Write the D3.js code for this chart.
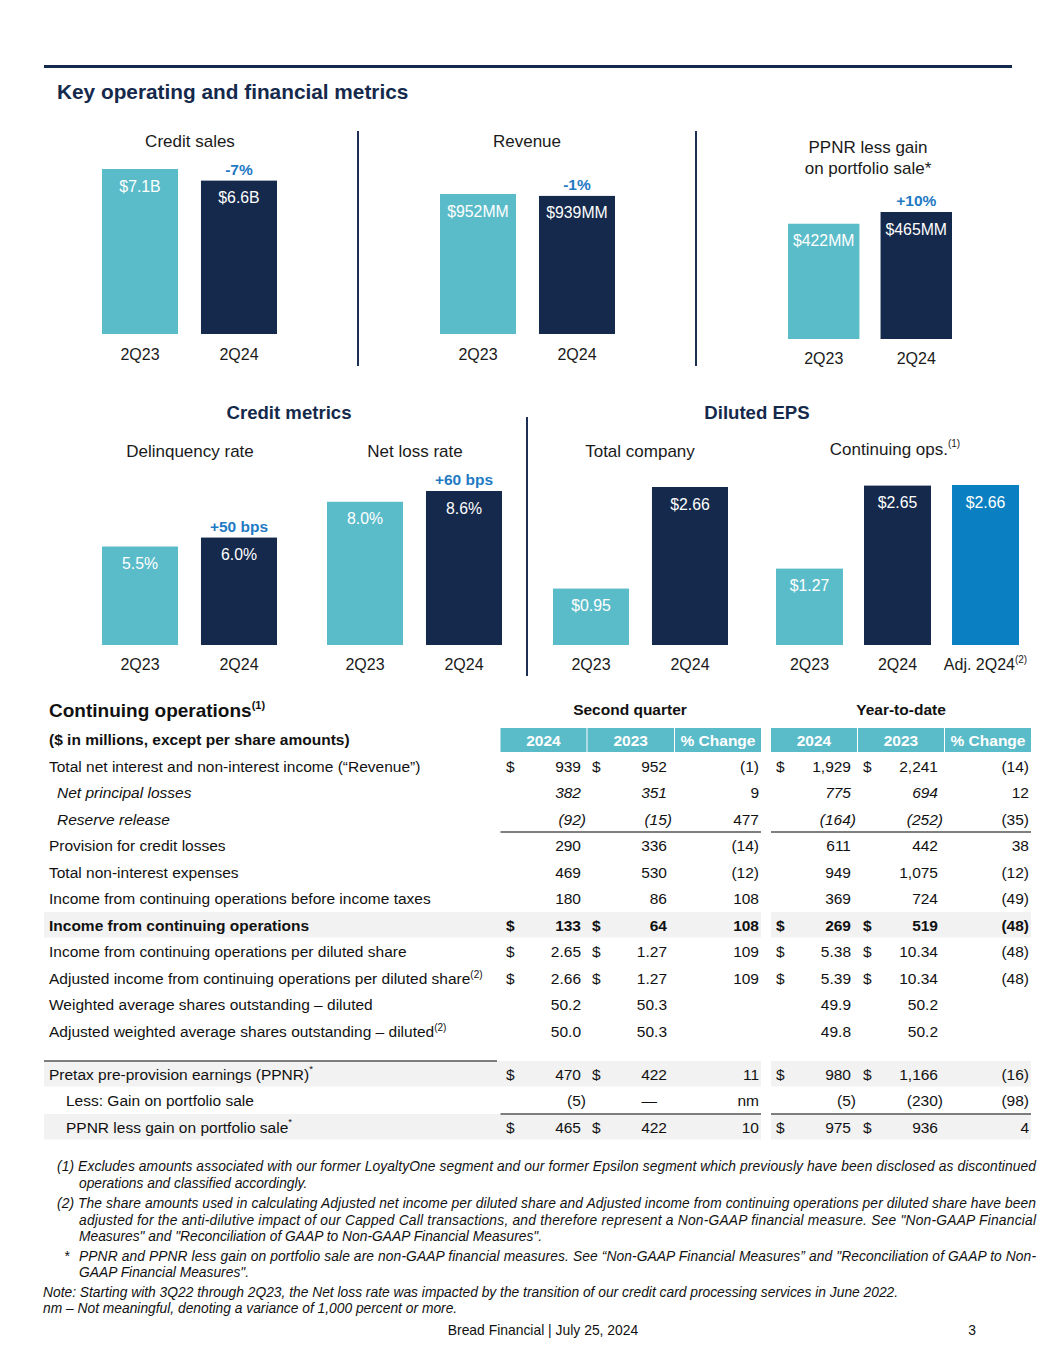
<!DOCTYPE html>
<html>
<head>
<meta charset="utf-8">
<script src="https://cdn.jsdelivr.net/npm/d3@7"></script>
<style>
  body { margin: 0; background: #fff; }
  svg text { font-family: "Liberation Sans", Arial, sans-serif; }
</style>
</head>
<body>
<svg id="page" width="1055" height="1365"></svg>
<script>
// ---- data ----
var periods = ["2Q23", "2Q24"];
var creditSales = [7.1, 6.6];
var creditSalesLabels = ["$7.1B", "$6.6B"];
var revenue = [952, 939];
var revenueLabels = ["$952MM", "$939MM"];
var ppnrLessGain = [422, 465];
var ppnrLabels = ["$422MM", "$465MM"];
var delinquencyRate = [5.5, 6.0];
var netLossRate = [8.0, 8.6];
var epsTotal = [0.95, 2.66];
var epsContPeriods = ["2Q23", "2Q24", "Adj. 2Q24"];
var epsCont = [1.27, 2.65, 2.66];

var rowLabels = [
	"Total net interest and non-interest income (\u201cRevenue\u201d)",
	"Net principal losses",
	"Reserve release",
	"Provision for credit losses",
	"Total non-interest expenses",
	"Income from continuing operations before income taxes",
	"Income from continuing operations",
	"Income from continuing operations per diluted share",
	"Adjusted income from continuing operations per diluted share",
	"Weighted average shares outstanding \u2013 diluted",
	"Adjusted weighted average shares outstanding \u2013 diluted",
	"Pretax pre-provision earnings (PPNR)",
	"Less: Gain on portfolio sale",
	"PPNR less gain on portfolio sale"
];
var rowNotes = ["", "", "", "", "", "", "", "", "(2)", "", "(2)", "*", "", "*"];
var q2024 = ["939", "382", "(92)", "290", "469", "180", "133", "2.65", "2.66", "50.2", "50.0", "470", "(5)", "465"];
var q2023 = ["952", "351", "(15)", "336", "530", "86", "64", "1.27", "1.27", "50.3", "50.3", "422", "\u2014", "422"];
var qChange = ["(1)", "9", "477", "(14)", "(12)", "108", "108", "109", "109", "", "", "11", "nm", "10"];
var ytd2024 = ["1,929", "775", "(164)", "611", "949", "369", "269", "5.38", "5.39", "49.9", "49.8", "980", "(5)", "975"];
var ytd2023 = ["2,241", "694", "(252)", "442", "1,075", "724", "519", "10.34", "10.34", "50.2", "50.2", "1,166", "(230)", "936"];
var ytdChange = ["(14)", "12", "(35)", "38", "(12)", "(49)", "(48)", "(48)", "(48)", "", "", "(16)", "(98)", "4"];
var hasDollar = [1, 0, 0, 0, 0, 0, 1, 1, 1, 0, 0, 1, 0, 1];
var columnHeads = ["2024", "2023", "% Change"];

// ---- style ----
var TEAL = "#5bbcc9", NAVY = "#14294b", BLUE = "#0a7fc1", CHG = "#1f7ac4";
var rowKind = ["n", "i", "i", "n", "n", "n", "b", "n", "n", "n", "n", "n", "s", "s"];
var rowShade = [0, 0, 0, 0, 0, 0, 1, 0, 0, 0, 0, 1, 0, 1];

var svg = d3.select("#page");

svg.append("rect").attr("x", 44).attr("y", 65).attr("width", 968).attr("height", 3).attr("fill", NAVY);
svg.append("text").attr("x", 57).attr("y", 99)
	.attr("font-size", 20.8).attr("font-weight", "bold").attr("fill", NAVY)
	.text("Key operating and financial metrics");

var divider = function(x, y1, y2)
{
	svg.append("line").attr("x1", x).attr("x2", x).attr("y1", y1).attr("y2", y2)
		.attr("stroke", "#1d2f55").attr("stroke-width", 2);
};

var barPanel = function(o)
{
	var g = svg.append("g");
	var x = d3.scaleBand().domain(o.cats).range(o.xr).paddingInner(o.pad).paddingOuter(0);
	var y = d3.scaleLinear().domain([0, o.max]).range([o.base, o.top]);

	g.selectAll("rect.bar").data(o.values).enter().append("rect")
		.attr("class", "bar")
		.attr("x", function(d, i) { return x(o.cats[i]); })
		.attr("y", function(d) { return y(d); })
		.attr("width", x.bandwidth())
		.attr("height", function(d) { return o.base - y(d); })
		.attr("fill", function(d, i) { return o.colors[i]; });

	g.selectAll("text.val").data(o.values).enter().append("text")
		.attr("x", function(d, i) { return x(o.cats[i]) + x.bandwidth() / 2; })
		.attr("y", function(d) { return y(d) + 22.5; })
		.attr("text-anchor", "middle").attr("font-size", 15.8).attr("fill", "#fff")
		.text(function(d, i) { return o.labels[i]; });

	// category labels
	var ax = g.append("g").attr("transform", "translate(0," + o.axisY + ")")
		.call(d3.axisBottom(x).tickSize(0).tickPadding(0));
	ax.select(".domain").remove();
	ax.selectAll("text").attr("font-size", 16).attr("fill", "#1a1a1a")
		.attr("dy", 0).attr("font-family", "Liberation Sans, Arial, sans-serif")
		.each(function(d) {
			if (d.indexOf("Adj.") === 0)
			{
				d3.select(this).append("tspan").attr("font-size", 10).attr("dy", -7).text("(2)");
			}
		});

	if (o.change)
	{
		var ci = o.cats.length - 1;
		g.append("text")
			.attr("x", x(o.cats[ci]) + x.bandwidth() / 2)
			.attr("y", y(o.values[ci]) - 6)
			.attr("text-anchor", "middle").attr("font-size", 15.5).attr("font-weight", "bold")
			.attr("fill", CHG).text(o.change);
	}

	o.title.forEach(function(t, i)
	{
		var tt = g.append("text").attr("x", o.titleX).attr("y", o.titleY + i * 21)
			.attr("text-anchor", "middle").attr("font-size", 17).attr("fill", "#1a1a1a").text(t);
		if (o.titleNote && i === 0)
		{
			tt.append("tspan").attr("font-size", 10).attr("dy", -8).text(o.titleNote);
		}
	});
};

var pairColors = [TEAL, NAVY];

barPanel({ cats: periods, values: creditSales, labels: creditSalesLabels, colors: pairColors,
	xr: [102, 277], pad: 0.232, base: 334, top: 169, max: 7.1, axisY: 360, change: "-7%",
	title: ["Credit sales"], titleX: 190, titleY: 147 });
barPanel({ cats: periods, values: revenue, labels: revenueLabels, colors: pairColors,
	xr: [440, 615], pad: 0.232, base: 334, top: 194, max: 952, axisY: 360, change: "-1%",
	title: ["Revenue"], titleX: 527, titleY: 147 });
barPanel({ cats: periods, values: ppnrLessGain, labels: ppnrLabels, colors: pairColors,
	xr: [788, 952], pad: 0.228, base: 339, top: 212, max: 465, axisY: 364, change: "+10%",
	title: ["PPNR less gain", "on portfolio sale*"], titleX: 868, titleY: 153 });

divider(358, 131, 366);
divider(696, 131, 366);

svg.append("text").attr("x", 289).attr("y", 419).attr("text-anchor", "middle")
	.attr("font-size", 18.6).attr("font-weight", "bold").attr("fill", NAVY).text("Credit metrics");
svg.append("text").attr("x", 757).attr("y", 419).attr("text-anchor", "middle")
	.attr("font-size", 18.6).attr("font-weight", "bold").attr("fill", NAVY).text("Diluted EPS");

var pct = function(v) { return v.toFixed(1) + "%"; };
var usd = function(v) { return "$" + v.toFixed(2); };

barPanel({ cats: periods, values: delinquencyRate, labels: delinquencyRate.map(pct), colors: pairColors,
	xr: [102, 277], pad: 0.232, base: 645, top: 491, max: 8.6, axisY: 670, change: "+50 bps",
	title: ["Delinquency rate"], titleX: 190, titleY: 457 });
barPanel({ cats: periods, values: netLossRate, labels: netLossRate.map(pct), colors: pairColors,
	xr: [327, 502], pad: 0.232, base: 645, top: 491, max: 8.6, axisY: 670, change: "+60 bps",
	title: ["Net loss rate"], titleX: 415, titleY: 457 });
barPanel({ cats: periods, values: epsTotal, labels: epsTotal.map(usd), colors: pairColors,
	xr: [553, 728], pad: 0.232, base: 645, top: 487, max: 2.66, axisY: 670,
	title: ["Total company"], titleX: 640, titleY: 457 });
barPanel({ cats: epsContPeriods, values: epsCont, labels: epsCont.map(usd), colors: [TEAL, NAVY, BLUE],
	xr: [776, 1019], pad: 0.239, base: 645, top: 485, max: 2.66, axisY: 670,
	title: ["Continuing ops."], titleNote: "(1)", titleX: 895, titleY: 455 });

divider(527, 417, 676);

// ---- table ----
var FS = 15.5;
var tg = svg.append("g").attr("font-size", FS);

var t0 = tg.append("text").attr("x", 49).attr("y", 717).attr("font-size", 19).attr("font-weight", "bold")
	.attr("fill", "#111").text("Continuing operations");
t0.append("tspan").attr("font-size", 11).attr("dy", -8).text("(1)");

tg.append("text").attr("x", 630).attr("y", 715).attr("text-anchor", "middle").attr("font-weight", "bold")
	.attr("fill", "#111").text("Second quarter");
tg.append("text").attr("x", 901).attr("y", 715).attr("text-anchor", "middle").attr("font-weight", "bold")
	.attr("fill", "#111").text("Year-to-date");
tg.append("text").attr("x", 49).attr("y", 745).attr("font-weight", "bold").attr("fill", "#111")
	.text("($ in millions, except per share amounts)");

var headCells = [[500.5, 586.5], [587.5, 674], [675, 761], [771, 857], [858, 944], [945, 1031]];
headCells.forEach(function(c, i)
{
	tg.append("rect").attr("x", c[0]).attr("y", 728).attr("width", c[1] - c[0]).attr("height", 24).attr("fill", TEAL);
	tg.append("text").attr("x", (c[0] + c[1]) / 2).attr("y", 745.5).attr("text-anchor", "middle")
		.attr("font-weight", "bold").attr("fill", "#fff").text(columnHeads[i % 3]);
});

var rowY = d3.scaleLinear().domain([0, 10]).range([766, 1031]);
var cy = function(i) { return i <= 10 ? rowY(i) : rowY(i) + 16.5; };

// shading
rowShade.forEach(function(s, i)
{
	if (!s) return;
	tg.append("rect").attr("x", 44).attr("y", cy(i) - 13).attr("width", 717).attr("height", 25.5).attr("fill", "#f2f2f2");
	tg.append("rect").attr("x", 771).attr("y", cy(i) - 13).attr("width", 260).attr("height", 25.5).attr("fill", "#f2f2f2");
});

// rules
var hline = function(x1, x2, y) { tg.append("line").attr("x1", x1).attr("x2", x2).attr("y1", y).attr("y2", y).attr("stroke", "#555").attr("stroke-width", 1.3); };
hline(500.5, 761, 832); hline(771, 1031, 832);
hline(44, 497, 1061);
hline(500.5, 761, 1114); hline(771, 1031, 1114);

var numCols = [
	{ vals: q2024, dollar: 506, right: 581 },
	{ vals: q2023, dollar: 592, right: 667 },
	{ vals: qChange, right: 759, pctCol: true },
	{ vals: ytd2024, dollar: 776, right: 851 },
	{ vals: ytd2023, dollar: 863, right: 938 },
	{ vals: ytdChange, right: 1029, pctCol: true }
];

rowLabels.forEach(function(label, i)
{
	var y = cy(i) + 5.5;
	var kind = rowKind[i];
	var lx = kind === "i" ? 57 : (kind === "s" ? 66 : 49);
	var t = tg.append("text").attr("x", lx).attr("y", y).attr("fill", "#111")
		.attr("font-weight", kind === "b" ? "bold" : null)
		.attr("font-style", kind === "i" ? "italic" : null)
		.text(label);
	if (rowNotes[i])
	{
		var star = rowNotes[i] === "*";
		t.append("tspan").attr("font-size", star ? 9.5 : 10).attr("dy", star ? -8 : -6).text(rowNotes[i]);
	}

	numCols.forEach(function(c)
	{
		var v = c.vals[i];
		var neg = v.charAt(0) === "(";
		var xr = c.right;
		if (!c.pctCol && neg) xr += 5;
		if (v === "\u2014") xr = c.right - 10;
		tg.append("text").attr("x", xr).attr("y", y).attr("text-anchor", "end").attr("fill", "#111")
			.attr("font-weight", kind === "b" ? "bold" : null)
			.attr("font-style", kind === "i" && !c.pctCol ? "italic" : null)
			.text(v);
		if (c.dollar && hasDollar[i])
		{
			tg.append("text").attr("x", c.dollar).attr("y", y).attr("fill", "#111")
				.attr("font-weight", kind === "b" ? "bold" : null).text("$");
		}
	});
});

// ---- footnotes ----
var fg = svg.append("g").attr("font-size", 13.8).attr("font-style", "italic").attr("fill", "#111");
var footLines = [
	{ x: 57, y: 1171, w: 979, t: "(1) Excludes amounts associated with our former LoyaltyOne segment and our former Epsilon segment which previously have been disclosed as discontinued" },
	{ x: 79, y: 1188, t: "operations and classified accordingly." },
	{ x: 57, y: 1208, w: 979, t: "(2) The share amounts used in calculating Adjusted net income per diluted share and Adjusted income from continuing operations per diluted share have been" },
	{ x: 79, y: 1225, w: 957, t: "adjusted for the anti-dilutive impact of our Capped Call transactions, and therefore represent a Non-GAAP financial measure. See \"Non-GAAP Financial" },
	{ x: 79, y: 1241, t: "Measures\" and \"Reconciliation of GAAP to Non-GAAP Financial Measures\"." },
	{ x: 64, y: 1261, t: "*" },
	{ x: 79, y: 1261, w: 957, t: "PPNR and PPNR less gain on portfolio sale are non-GAAP financial measures. See \u201cNon-GAAP Financial Measures\u201d and \"Reconciliation of GAAP to Non-" },
	{ x: 79, y: 1277, t: "GAAP Financial Measures\"." },
	{ x: 43, y: 1297, t: "Note: Starting with 3Q22 through 2Q23, the Net loss rate was impacted by the transition of our credit card processing services in June 2022." },
	{ x: 43, y: 1313, t: "nm \u2013 Not meaningful, denoting a variance of 1,000 percent or more." }
];
footLines.forEach(function(l)
{
	var t = fg.append("text").attr("x", l.x).attr("y", l.y).text(l.t);
	if (l.w) t.attr("textLength", l.w).attr("lengthAdjust", "spacing");
});

svg.append("text").attr("x", 543).attr("y", 1335).attr("text-anchor", "middle").attr("font-size", 13.9)
	.attr("fill", "#111").text("Bread Financial | July 25, 2024");
svg.append("text").attr("x", 972).attr("y", 1335).attr("text-anchor", "middle").attr("font-size", 13.9)
	.attr("fill", "#111").text("3");
</script>
</body>
</html>
